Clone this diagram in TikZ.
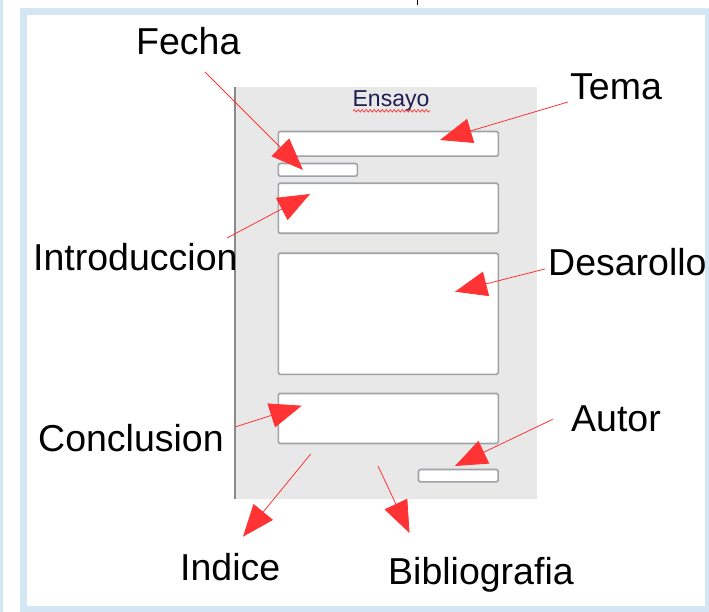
\documentclass[tikz,border=0pt]{standalone}
\usepackage{fontspec}
\setmainfont{Liberation Sans}
\usetikzlibrary{arrows.meta,decorations.pathmorphing}
\definecolor{framebl}{HTML}{D2E6F3}
\definecolor{panelgray}{HTML}{E8E8E8}
\definecolor{paneledge}{HTML}{8A8A8A}
\definecolor{fieldgray}{HTML}{9FA2A6}
\definecolor{arrred}{HTML}{FF3333}
\definecolor{navy}{HTML}{1E1E50}
\begin{document}
\begin{tikzpicture}[x=1pt,y=-1pt,
  lbl/.style={font=\fontsize{37.5}{42}\selectfont, anchor=base west, inner sep=0pt, text=black},
  field/.style={draw=fieldgray, fill=white, line width=1.6pt, rounded corners=1.5pt, inner sep=0pt, anchor=north west},
  pointer/.style={draw=arrred, line width=0.8pt, -{Triangle[length=32pt,width=25pt,fill=arrred]}}]
\useasboundingbox (0,0) rectangle (709,612);
% outer frame
\fill[framebl] (0,0) rectangle (3,612);
\draw[framebl, line width=7pt] (23.3,11.7) rectangle (708.5,609);
\draw[black, line width=0.8pt] (417,0) -- (417,5);
% panel
\fill[panelgray] (235,87) rectangle (537,499);
\draw[paneledge, line width=1.4pt] (235,87) -- (235,499);
\node[font=\fontsize{23}{27}\selectfont, text=navy, anchor=base, inner sep=0pt] (ensayo) at (391,106.7) {Ensayo};
\draw[arrred, line width=0.7pt, decorate, decoration={snake, amplitude=1.3pt, segment length=4pt}] (353,110.8) -- (430,110.8);
% fields
\node[field, minimum width=220pt, minimum height=24.6pt] (tema) at (277.5,130.7) {};
\node[field, minimum width=79pt, minimum height=12.6pt] (fecha) at (277.5,162.7) {};
\node[field, minimum width=220pt, minimum height=50pt] (intro) at (277.5,182.5) {};
\node[field, minimum width=220pt, minimum height=121pt] (desa) at (277.5,252.5) {};
\node[field, minimum width=220pt, minimum height=50pt] (concl) at (277.5,392.7) {};
\node[field, minimum width=79.6pt, minimum height=12.3pt] (autor) at (417.7,468.7) {};
% labels
\node[lbl] (lfecha) at (136,55) {Fecha};
\node[lbl] (ltema) at (570,100) {Tema};
\node[lbl] (lintro) at (33,271) {Introduccion};
\node[lbl] (ldesa) at (548,276) {Desarollo};
\node[lbl] (lconcl) at (38,451.7) {Conclusion};
\node[lbl] (lautor) at (571,431) {Autor};
\node[lbl] (lindice) at (180,580) {Indice};
\node[lbl] (lbiblio) at (388,584) {Bibliografia};
% arrow ends
\coordinate (sfecha) at (205,72);   \coordinate (tfecha) at (303,170);
\coordinate (stema) at (568,102);   \coordinate (ttema) at (440,140);
\coordinate (sintro) at (227,238);  \coordinate (tintro) at (310,194);
\coordinate (sdesa) at (545,269);   \coordinate (tdesa) at (455,291.7);
\coordinate (sconcl) at (236,426.7);\coordinate (tconcl) at (301.7,405.7);
\coordinate (sautor) at (552.7,419.3); \coordinate (tautor) at (455,466);
\coordinate (sindice) at (310.7,454); \coordinate (tindice) at (243,536.7);
\coordinate (sbiblio) at (378,466); \coordinate (tbiblio) at (409.5,533);
\draw[pointer] (sfecha) -- (tfecha);
\draw[pointer] (stema) -- (ttema);
\draw[pointer] (sintro) -- (tintro);
\draw[pointer] (sdesa) -- (tdesa);
\draw[pointer] (sconcl) -- (tconcl);
\draw[pointer] (sautor) -- (tautor);
\draw[pointer] (sindice) -- (tindice);
\draw[pointer] (sbiblio) -- (tbiblio);
\end{tikzpicture}
\end{document}
